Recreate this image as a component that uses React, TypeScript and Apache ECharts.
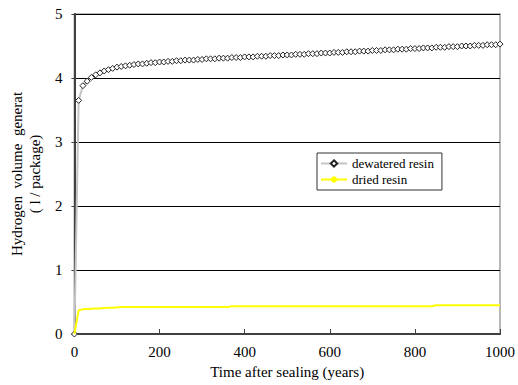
import React, { useEffect, useRef } from "react";
import * as echarts from "echarts";

const years = [
  0, 10, 20, 30, 40, 50, 60, 70, 80, 90,
  100, 110, 120, 130, 140, 150, 160, 170, 180, 190,
  200, 210, 220, 230, 240, 250, 260, 270, 280, 290,
  300, 310, 320, 330, 340, 350, 360, 370, 380, 390,
  400, 410, 420, 430, 440, 450, 460, 470, 480, 490,
  500, 510, 520, 530, 540, 550, 560, 570, 580, 590,
  600, 610, 620, 630, 640, 650, 660, 670, 680, 690,
  700, 710, 720, 730, 740, 750, 760, 770, 780, 790,
  800, 810, 820, 830, 840, 850, 860, 870, 880, 890,
  900, 910, 920, 930, 940, 950, 960, 970, 980, 990,
  1000,
];

const dewatered = [
  0, 3.65, 3.88, 3.95, 4.01, 4.05, 4.08, 4.11, 4.13, 4.15,
  4.17, 4.18, 4.19, 4.2, 4.21, 4.22, 4.22, 4.23, 4.24, 4.24,
  4.25, 4.25, 4.26, 4.26, 4.27, 4.27, 4.28, 4.28, 4.28, 4.29,
  4.29, 4.3, 4.3, 4.3, 4.31, 4.31, 4.31, 4.32, 4.32, 4.32,
  4.33, 4.33, 4.33, 4.34, 4.34, 4.34, 4.35, 4.35, 4.35, 4.36,
  4.36, 4.36, 4.37, 4.37, 4.37, 4.38, 4.38, 4.38, 4.39, 4.39,
  4.39, 4.4, 4.4, 4.4, 4.41, 4.41, 4.41, 4.42, 4.42, 4.42,
  4.43, 4.43, 4.43, 4.44, 4.44, 4.44, 4.45, 4.45, 4.45, 4.46,
  4.46, 4.46, 4.47, 4.47, 4.47, 4.48, 4.48, 4.48, 4.49, 4.49,
  4.49, 4.5, 4.5, 4.5, 4.51, 4.51, 4.51, 4.52, 4.52, 4.52,
  4.53,
];

const dried = [
  0, 0.37, 0.385, 0.39, 0.395, 0.4, 0.4, 0.405, 0.41, 0.41,
  0.415, 0.42, 0.42, 0.42, 0.42, 0.42, 0.42, 0.42, 0.42, 0.42,
  0.42, 0.42, 0.42, 0.42, 0.42, 0.42, 0.42, 0.42, 0.42, 0.42,
  0.42, 0.42, 0.42, 0.42, 0.42, 0.42, 0.42, 0.435, 0.435, 0.435,
  0.435, 0.435, 0.435, 0.435, 0.435, 0.435, 0.435, 0.435, 0.435, 0.435,
  0.435, 0.435, 0.435, 0.435, 0.435, 0.435, 0.435, 0.435, 0.435, 0.435,
  0.435, 0.435, 0.435, 0.435, 0.435, 0.435, 0.435, 0.435, 0.435, 0.435,
  0.435, 0.435, 0.435, 0.435, 0.435, 0.435, 0.435, 0.435, 0.435, 0.435,
  0.435, 0.435, 0.435, 0.435, 0.435, 0.45, 0.45, 0.45, 0.45, 0.45,
  0.45, 0.45, 0.45, 0.45, 0.45, 0.45, 0.45, 0.45, 0.45, 0.45,
  0.45,
];

const seriesNames = ["dewatered resin", "dried resin"];
const xTitle = "Time after sealing (years)";
const yTitle = "Hydrogen  volume  generat\n( l / package)";

const FONT = "serif";

export default function App() {
  const ref = useRef<HTMLDivElement>(null);
  useEffect(() => {
    if (!ref.current) return;
    const chart = echarts.init(ref.current, undefined, { renderer: "svg" });
    chart.setOption({
      animation: false,
      backgroundColor: "#ffffff",
      grid: {
        left: 68,
        right: 18,
        top: 14,
        bottom: 51,
        show: true,
        borderColor: "#b8b8b8",
        borderWidth: 2,
        backgroundColor: "transparent",
      },
      legend: {
        left: 317,
        top: 153,
        orient: "vertical",
        itemGap: 3,
        itemWidth: 26,
        itemHeight: 8,
        padding: [4, 8, 4, 3],
        backgroundColor: "#ffffff",
        borderColor: "#333333",
        borderWidth: 1,
        borderRadius: 0,
        textStyle: { fontFamily: FONT, fontSize: 13, color: "#000" },
        data: seriesNames,
      },
      xAxis: {
        type: "value",
        min: 0,
        max: 1000,
        interval: 200,
        name: xTitle,
        nameLocation: "middle",
        nameGap: 30,
        nameTextStyle: { fontFamily: FONT, fontSize: 15, color: "#000" },
        axisLine: { show: true, lineStyle: { color: "#404040", width: 2 } },
        axisTick: { show: true, inside: true, length: 5, lineStyle: { color: "#404040" } },
        axisLabel: {
          fontFamily: FONT,
          fontSize: 15,
          color: "#000000",
          margin: 10,
          formatter: (v: number) => String(v),
        },
        splitLine: { show: false },
      },
      yAxis: {
        type: "value",
        min: 0,
        max: 5,
        interval: 1,
        name: yTitle,
        nameLocation: "middle",
        nameGap: 28,
        nameRotate: 90,
        nameTextStyle: { fontFamily: FONT, fontSize: 15, color: "#000", lineHeight: 18 },
        axisLine: { show: true, lineStyle: { color: "#404040", width: 2 } },
        axisTick: { show: true, length: 3, lineStyle: { color: "#404040" } },
        axisLabel: { fontFamily: FONT, fontSize: 15, color: "#000000", margin: 12 },
        splitLine: { show: true, lineStyle: { color: "#000000", width: 1 } },
      },
      series: [
        {
          name: seriesNames[0],
          type: "line",
          data: years.map((x, i) => [x, dewatered[i]]),
          symbol: "diamond",
          symbolSize: 6,
          showAllSymbol: true,
          lineStyle: { color: "#c4c4c4", width: 2 },
          itemStyle: { color: "#ffffff", borderColor: "#222222", borderWidth: 1 },
          z: 2,
        },
        {
          name: seriesNames[1],
          type: "line",
          data: years.map((x, i) => [x, dried[i]]),
          symbol: "none",
          lineStyle: { color: "#ffff00", width: 2 },
          itemStyle: { color: "#ffff00" },
          z: 3,
        },
      ],
    });
    return () => chart.dispose();
  }, []);
  return <div ref={ref} style={{ width: 518, height: 385, position: "absolute", left: 0, top: 0 }} />;
}
